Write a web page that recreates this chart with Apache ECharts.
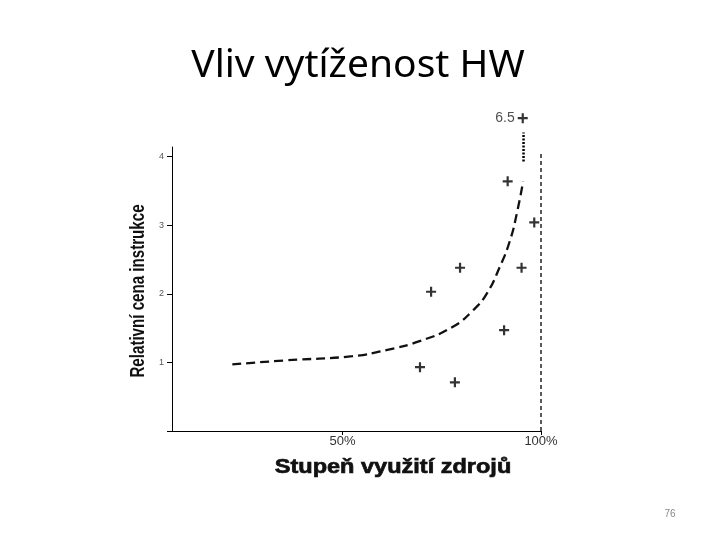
<!DOCTYPE html>
<html>
<head>
  <meta charset="utf-8" />
  <title>Vliv vytíženost HW</title>
  <script src="https://cdn.jsdelivr.net/npm/echarts@6/dist/echarts.min.js"></script>
  <style>
    html, body { margin: 0; padding: 0; background: #fff; }
  </style>
</head>
<body>
<div id="main" style="width:720px;height:540px;"></div>
<script type="text/javascript">
  // naměřené body (využití v %, relativní cena)
  var pointsX = [91.6, 98.3, 79.6, 95.1, 72.3, 90.7, 69.5, 78.3];
  var pointsY = [3.64, 3.04, 2.38, 2.38, 2.03, 1.47, 0.93, 0.71];

  // bod mimo osu (hodnota 6.5), kreslen nad grafem
  var outlierX = [95.4];
  var outlierY = [4.56];
  var outlierLabel = ['6.5'];

  // proložená křivka
  var curveX = [22.2, 35.7, 52.5, 61.0, 69.4, 77.8, 82.9, 86.3, 89.6, 92.2, 93.9, 95.5];
  var curveY = [0.97, 1.03, 1.09, 1.18, 1.31, 1.52, 1.76, 2.0, 2.39, 2.78, 3.17, 3.64];

  // svislá čára na 100 % a tečkovaná spojnice k bodu 6.5
  var limitX = [100, 100];
  var limitY = [0, 4.07];
  var breakX = [95.6, 95.6];
  var breakY = [3.93, 4.35];

  var xTicks = [50, 100];
  var yTicks = [0, 1, 2, 3, 4];

  function zip(xs, ys) {
    return xs.map(function (x, i) { return [x, ys[i]]; });
  }

  var plus = 'path://M3.9,0h2.2v10h-2.2z M0,3.9h10v2.2h-10z';

  var myChart = echarts.init(document.getElementById('main'));
  var option = {
    backgroundColor: '#fff',
    animation: false,
    grid: { left: 172, right: 179, top: 147, bottom: 109 },
    xAxis: {
      type: 'value',
      min: 7,
      max: 100,
      axisLine: { lineStyle: { color: '#000', width: 1 } },
      axisTick: { show: true, customValues: xTicks, length: 4, lineStyle: { color: '#000' } },
      axisLabel: {
        customValues: xTicks,
        formatter: '{value}%',
        color: '#333',
        fontFamily: 'Liberation Sans',
        fontSize: 13,
        margin: 4
      },
      splitLine: { show: false }
    },
    yAxis: {
      type: 'value',
      min: 0,
      max: 4.14,
      axisLine: { show: true, lineStyle: { color: '#000', width: 1 } },
      axisTick: { show: true, customValues: yTicks, length: 5, lineStyle: { color: '#000' } },
      axisLabel: {
        customValues: yTicks,
        formatter: function (v) { return v === 0 ? '' : v; },
        color: '#555',
        fontFamily: 'Liberation Sans',
        fontSize: 9,
        margin: 8
      },
      splitLine: { show: false }
    },
    graphic: [
      {
        type: 'text', x: 358, y: 66,
        style: {
          text: 'Vliv vytíženost HW', fontFamily: 'Noto Sans', fontSize: 39, fill: '#000',
          align: 'center', verticalAlign: 'middle'
        }
      },
      {
        type: 'text', x: 393, y: 467, scaleX: 1.12,
        style: {
          text: 'Stupeň využití zdrojů', fontFamily: 'Liberation Sans', fontWeight: 'bold',
          fontSize: 21, fill: '#111', stroke: '#111', lineWidth: 0.7,
          align: 'center', verticalAlign: 'middle'
        }
      },
      {
        type: 'text', x: 138, y: 291, rotation: Math.PI / 2, scaleX: 0.72,
        style: {
          text: 'Relativní cena instrukce', fontFamily: 'Liberation Sans', fontWeight: 'bold',
          fontSize: 21, fill: '#111', align: 'center', verticalAlign: 'middle'
        }
      },
      {
        type: 'text', x: 670, y: 514,
        style: { text: '76', fontFamily: 'Liberation Sans', fontSize: 10, fill: '#888', align: 'center', verticalAlign: 'middle' }
      }
    ],
    series: [
      {
        name: 'křivka',
        type: 'line',
        data: zip(curveX, curveY),
        smooth: true,
        symbol: 'none',
        lineStyle: { color: '#111', width: 2.3, type: [9, 5] }
      },
      {
        name: 'limit',
        type: 'line',
        data: zip(limitX, limitY),
        symbol: 'none',
        clip: false,
        lineStyle: { color: '#000', width: 1.3, type: [4, 3] }
      },
      {
        name: 'zlom',
        type: 'line',
        data: zip(breakX, breakY),
        symbol: 'none',
        clip: false,
        lineStyle: { color: '#000', width: 2.5, type: [2, 1.5] }
      },
      {
        name: 'body',
        type: 'scatter',
        data: zip(pointsX, pointsY),
        symbol: plus,
        symbolSize: 10,
        clip: false,
        itemStyle: { color: '#000' }
      },
      {
        name: 'mimo',
        type: 'scatter',
        data: zip(outlierX, outlierY),
        symbol: plus,
        symbolSize: 10,
        clip: false,
        itemStyle: { color: '#000' },
        label: {
          show: true,
          position: 'left',
          distance: 3,
          formatter: function (p) { return outlierLabel[p.dataIndex]; },
          color: '#222',
          fontFamily: 'Liberation Sans',
          fontSize: 14
        }
      }
    ]
  };
  myChart.setOption(option);
</script>
</body>
</html>
